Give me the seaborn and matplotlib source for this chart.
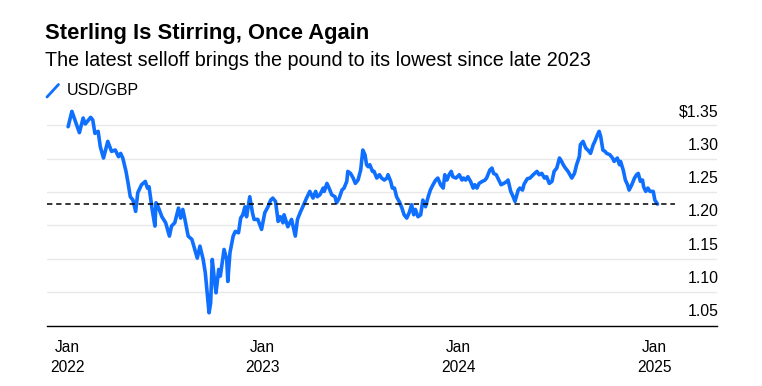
import pandas as pd
import matplotlib
matplotlib.use("Agg")
import matplotlib.pyplot as plt
from matplotlib.lines import Line2D
import seaborn as sns

# USD/GBP
dates = [
    "2022-01-03", "2022-01-10", "2022-01-24", "2022-01-31", "2022-02-04", "2022-02-14",
    "2022-02-18", "2022-02-22", "2022-02-28", "2022-03-04", "2022-03-10", "2022-03-18",
    "2022-03-25", "2022-04-01", "2022-04-07", "2022-04-11", "2022-04-15", "2022-04-21",
    "2022-04-25", "2022-04-29", "2022-05-04", "2022-05-09", "2022-05-13", "2022-05-20",
    "2022-05-27", "2022-05-31", "2022-06-03", "2022-06-09", "2022-06-14", "2022-06-16",
    "2022-06-20", "2022-06-27", "2022-07-04", "2022-07-11", "2022-07-15", "2022-07-21",
    "2022-07-28", "2022-08-01", "2022-08-05", "2022-08-09", "2022-08-15", "2022-08-22",
    "2022-08-29", "2022-09-01", "2022-09-06", "2022-09-12", "2022-09-16", "2022-09-20",
    "2022-09-23", "2022-09-26", "2022-09-29", "2022-10-03", "2022-10-06", "2022-10-11",
    "2022-10-14", "2022-10-21", "2022-10-26", "2022-10-28", "2022-11-01", "2022-11-07",
    "2022-11-11", "2022-11-17", "2022-11-21", "2022-11-25", "2022-11-29", "2022-12-02",
    "2022-12-08", "2022-12-13", "2022-12-16", "2022-12-23", "2022-12-30", "2023-01-05",
    "2023-01-11", "2023-01-16", "2023-01-20", "2023-01-25", "2023-01-30", "2023-02-03",
    "2023-02-08", "2023-02-10", "2023-02-17", "2023-02-24", "2023-02-27", "2023-03-03",
    "2023-03-07", "2023-03-13", "2023-03-17", "2023-03-24", "2023-03-30", "2023-04-05",
    "2023-04-10", "2023-04-13", "2023-04-18", "2023-04-24", "2023-04-26", "2023-05-01",
    "2023-05-05", "2023-05-10", "2023-05-16", "2023-05-19", "2023-05-24", "2023-05-29",
    "2023-06-02", "2023-06-07", "2023-06-09", "2023-06-14", "2023-06-19", "2023-06-23",
    "2023-06-28", "2023-07-03", "2023-07-05", "2023-07-07", "2023-07-11", "2023-07-14",
    "2023-07-17", "2023-07-20", "2023-07-25", "2023-07-28", "2023-08-02", "2023-08-07",
    "2023-08-11", "2023-08-16", "2023-08-21", "2023-08-23", "2023-08-28", "2023-08-31",
    "2023-09-04", "2023-09-08", "2023-09-14", "2023-09-18", "2023-09-22", "2023-09-27",
    "2023-10-02", "2023-10-06", "2023-10-10", "2023-10-13", "2023-10-18", "2023-10-23",
    "2023-10-27", "2023-11-01", "2023-11-06", "2023-11-10", "2023-11-15", "2023-11-20",
    "2023-11-24", "2023-11-29", "2023-12-04", "2023-12-07", "2023-12-11", "2023-12-15",
    "2023-12-19", "2023-12-22", "2023-12-28", "2024-01-03", "2024-01-08", "2024-01-11",
    "2024-01-15", "2024-01-19", "2024-01-24", "2024-01-29", "2024-02-01", "2024-02-05",
    "2024-02-09", "2024-02-15", "2024-02-20", "2024-02-23", "2024-02-29", "2024-03-04",
    "2024-03-07", "2024-03-12", "2024-03-18", "2024-03-21", "2024-03-26", "2024-04-01",
    "2024-04-03", "2024-04-08", "2024-04-11", "2024-04-16", "2024-04-22", "2024-04-25",
    "2024-04-30", "2024-05-03", "2024-05-09", "2024-05-14", "2024-05-20", "2024-05-27",
    "2024-05-31", "2024-06-05", "2024-06-10", "2024-06-14", "2024-06-19", "2024-06-24",
    "2024-06-28", "2024-07-03", "2024-07-08", "2024-07-12", "2024-07-15", "2024-07-19",
    "2024-07-24", "2024-07-31", "2024-08-05", "2024-08-09", "2024-08-14", "2024-08-16",
    "2024-08-21", "2024-08-26", "2024-08-30", "2024-09-04", "2024-09-09", "2024-09-12",
    "2024-09-17", "2024-09-20", "2024-09-23", "2024-09-27", "2024-10-01", "2024-10-04",
    "2024-10-10", "2024-10-15", "2024-10-18", "2024-10-24", "2024-10-28", "2024-10-30",
    "2024-11-04", "2024-11-08", "2024-11-12", "2024-11-15", "2024-11-20", "2024-11-25",
    "2024-11-29", "2024-12-02", "2024-12-06", "2024-12-10", "2024-12-12", "2024-12-16",
    "2024-12-20", "2024-12-24", "2024-12-30", "2025-01-02", "2025-01-07",
]
usd_gbp = [
    1.348, 1.371, 1.339, 1.361, 1.352, 1.362,
    1.358, 1.338, 1.341, 1.318, 1.301, 1.326,
    1.311, 1.313, 1.303, 1.308, 1.301, 1.281,
    1.263, 1.243, 1.238, 1.221, 1.249, 1.261,
    1.266, 1.256, 1.258, 1.223, 1.199, 1.234,
    1.228, 1.213, 1.204, 1.184, 1.199, 1.204,
    1.226, 1.211, 1.224, 1.209, 1.184, 1.179,
    1.159, 1.151, 1.169, 1.149, 1.129, 1.094,
    1.069, 1.084, 1.149, 1.119, 1.099, 1.134,
    1.124, 1.164, 1.149, 1.116, 1.159, 1.184,
    1.191, 1.189, 1.211, 1.216, 1.228, 1.213,
    1.243, 1.219, 1.209, 1.209, 1.194, 1.219,
    1.228, 1.238, 1.241, 1.236, 1.206, 1.213,
    1.204, 1.216, 1.198, 1.209, 1.198, 1.184,
    1.209, 1.221, 1.228, 1.241, 1.251, 1.241,
    1.251, 1.243, 1.246, 1.256, 1.251, 1.263,
    1.256, 1.246, 1.243, 1.234, 1.241, 1.253,
    1.256, 1.266, 1.281, 1.278, 1.271, 1.263,
    1.268, 1.283, 1.298, 1.313, 1.306, 1.291,
    1.288, 1.291, 1.281, 1.281, 1.271, 1.276,
    1.271, 1.268, 1.271, 1.276, 1.266, 1.256,
    1.256, 1.243, 1.234, 1.226, 1.216, 1.211,
    1.220, 1.231, 1.216, 1.224, 1.213, 1.216,
    1.238, 1.228, 1.243, 1.253, 1.261, 1.268,
    1.271, 1.261, 1.256, 1.276, 1.268, 1.276,
    1.281, 1.273, 1.271, 1.276, 1.268, 1.271,
    1.268, 1.273, 1.266, 1.256, 1.261, 1.256,
    1.263, 1.266, 1.268, 1.271, 1.283, 1.286,
    1.278, 1.276, 1.266, 1.261, 1.263, 1.266,
    1.268, 1.251, 1.246, 1.236, 1.253, 1.256,
    1.253, 1.262, 1.270, 1.271, 1.276, 1.281,
    1.276, 1.278, 1.271, 1.273, 1.263, 1.266,
    1.281, 1.286, 1.301, 1.296, 1.291, 1.286,
    1.281, 1.271, 1.278, 1.291, 1.303, 1.321,
    1.326, 1.316, 1.313, 1.308, 1.321, 1.326,
    1.336, 1.341, 1.333, 1.313, 1.311, 1.308,
    1.306, 1.301, 1.296, 1.301, 1.291, 1.296,
    1.283, 1.268, 1.261, 1.253, 1.261, 1.271,
    1.276, 1.278, 1.266, 1.268, 1.258, 1.251,
    1.256, 1.251, 1.251, 1.238, 1.232,
]
y_ticks = [1.05, 1.10, 1.15, 1.20, 1.25, 1.30, 1.35]
y_labels = ["1.05", "1.10", "1.15", "1.20", "1.25", "1.30", "$1.35"]
x_ticks = ["2022-01-01", "2023-01-01", "2024-01-01", "2025-01-01"]
x_labels = ["Jan\n2022", "Jan\n2023", "Jan\n2024", "Jan\n2025"]

blue = "#0f6fff"
df = pd.DataFrame({"date": pd.to_datetime(dates), "rate": usd_gbp})

sns.set_style("white")
plt.rcParams["font.family"] = ["Liberation Sans", "DejaVu Sans"]
plt.rcParams["text.color"] = "black"
plt.rcParams["xtick.color"] = "black"
plt.rcParams["ytick.color"] = "black"

fig = plt.figure(figsize=(7.62, 3.86), dpi=100)
ax = fig.add_axes([46.7 / 762, 1 - 325.5 / 386, (717 - 46.7) / 762, 225.5 / 386])

sns.lineplot(data=df, x="date", y="rate", ax=ax, color=blue, linewidth=2.6)

x_left = pd.Timestamp("2021-11-24")
ax.set_xlim(x_left, pd.Timestamp("2025-04-28"))
ax.set_ylim(1.05, 1.388)

# dashed reference at the latest value
ax.hlines(usd_gbp[-1], x_left, pd.Timestamp("2025-02-08"), colors="black",
          linestyles=(0, (3.5, 2.5)), linewidth=1.1, zorder=3)

# gridlines and right-side labels sitting above them
ax.set_yticks(y_ticks)
ax.set_yticklabels([])
ax.tick_params(axis="y", length=0)
ax.yaxis.grid(True, color="#e8e8e8", linewidth=1)
ax.set_axisbelow(True)
for v, lab in zip(y_ticks, y_labels):
    ax.annotate(lab, xy=(1, v), xycoords=("axes fraction", "data"), xytext=(1, 6.5),
                textcoords="offset points", ha="right", va="baseline", fontsize=11.4)

ax.set_xticks(pd.to_datetime(x_ticks))
ax.set_xticklabels(x_labels, fontsize=11.2, linespacing=1.45)
ax.tick_params(axis="x", length=4.5, width=1, color="black", direction="out", pad=6)

for s in ["top", "left", "right"]:
    ax.spines[s].set_visible(False)
ax.spines["bottom"].set_color("black")
ax.spines["bottom"].set_linewidth(1)
ax.set_xlabel("")
ax.set_ylabel("")

fig.text(45 / 762, 1 - 34 / 386, "Sterling Is Stirring, Once Again", fontsize=15.8,
         fontweight="bold", va="center", ha="left")
fig.text(45 / 762, 1 - 60.5 / 386, "The latest selloff brings the pound to its lowest since late 2023",
         fontsize=14.2, va="center", ha="left")
fig.add_artist(Line2D([47 / 762, 58.5 / 762], [1 - 97 / 386, 1 - 84.5 / 386], color=blue, linewidth=2))
fig.text(66.5 / 762, 1 - 90.5 / 386, "USD/GBP", fontsize=11.5, va="center", ha="left")

fig.savefig("out.png", dpi=100)
